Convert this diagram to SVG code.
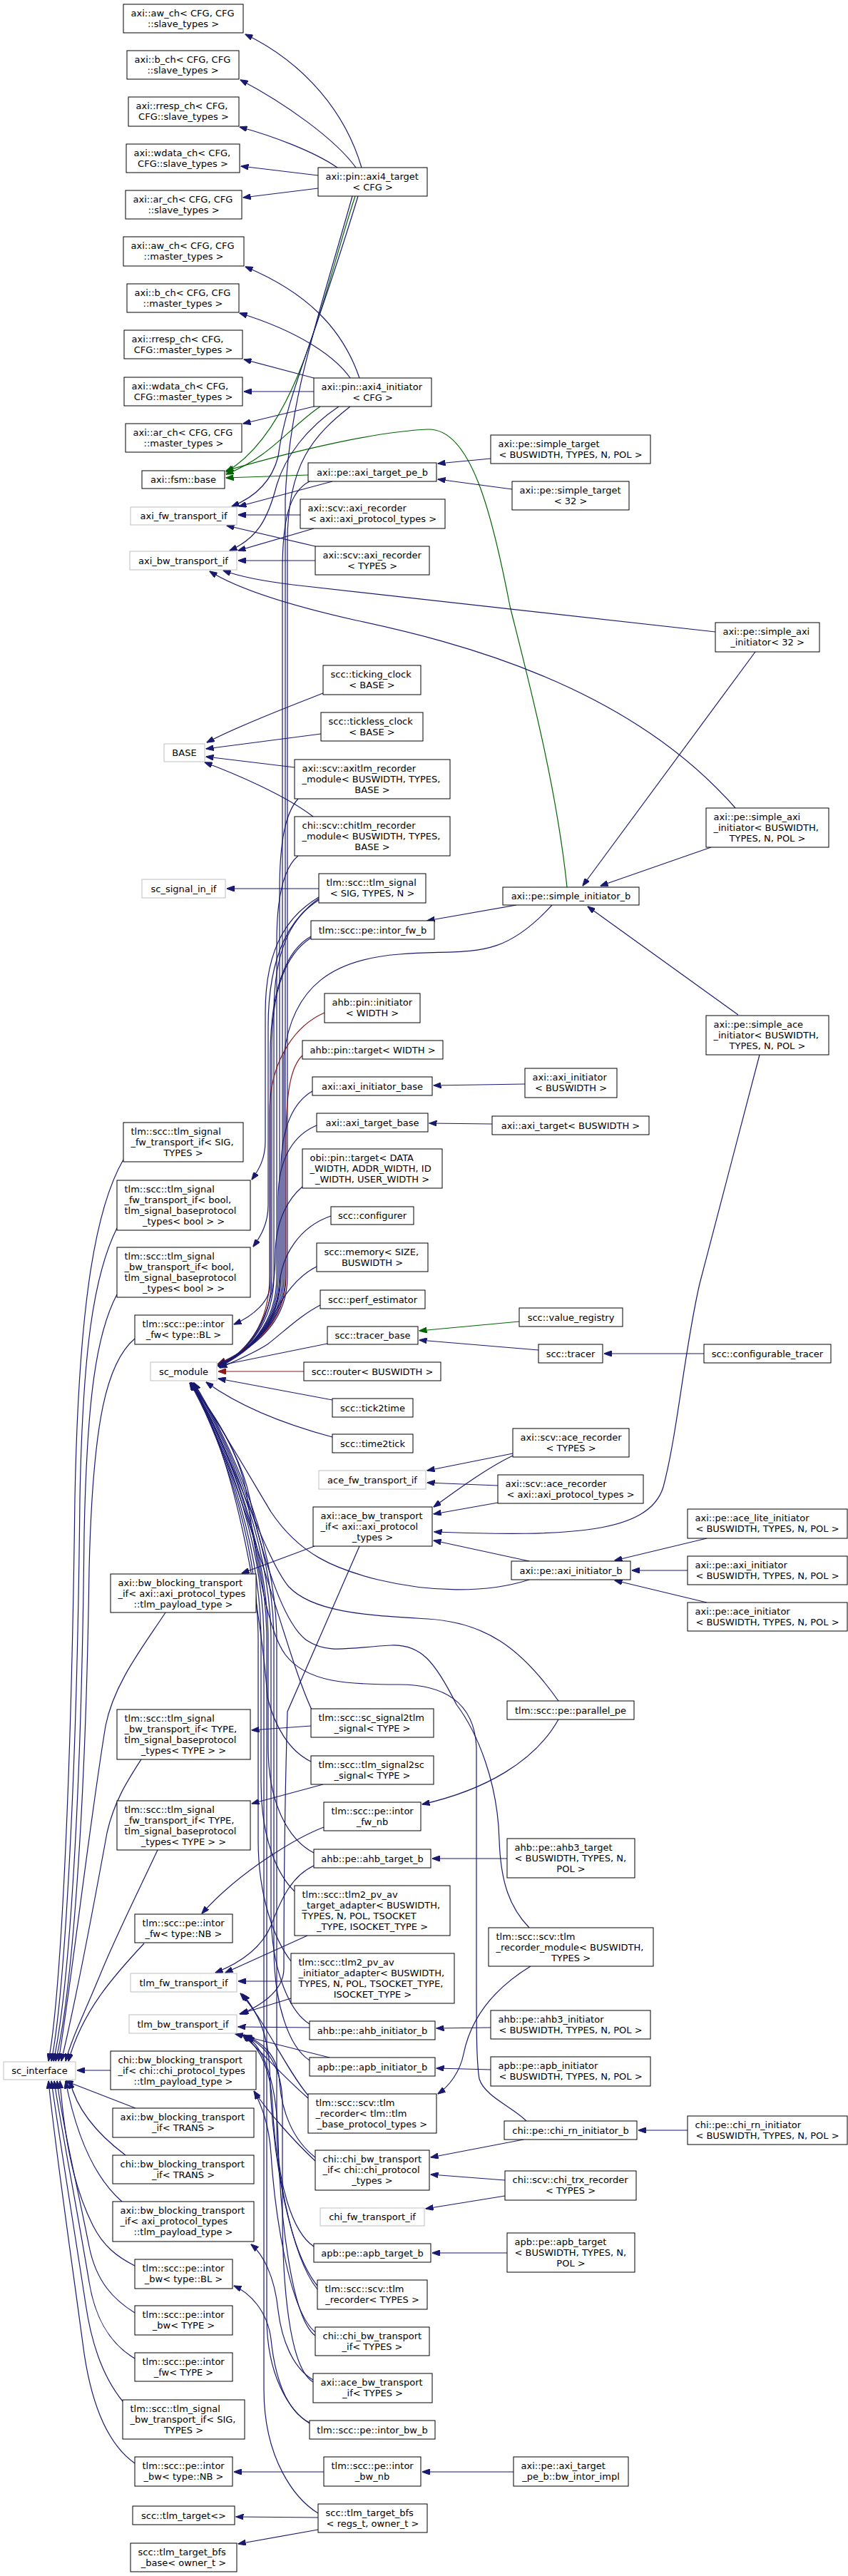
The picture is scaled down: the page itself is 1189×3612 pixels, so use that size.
<svg xmlns="http://www.w3.org/2000/svg" width="1189" height="3612" viewBox="0 0 1189 3612">
<defs>
<style>
text{font-family:"DejaVu Sans","Liberation Sans",sans-serif;font-size:13px;fill:#000}
.c{text-anchor:middle}
.n rect{fill:#fff;stroke:#000;stroke-width:1}
.g rect{fill:#fff;stroke:#bfbfbf;stroke-width:1}
.e{fill:none;stroke:#191970;stroke-width:1.2;marker-end:url(#ab)}
.eg{fill:none;stroke:#006400;stroke-width:1.2;marker-end:url(#ag)}
.er{fill:none;stroke:#8b1a1a;stroke-width:1.2;marker-end:url(#ar)}
</style>
<marker id="ab" viewBox="0 0 11 8" refX="10.5" refY="4" markerWidth="11" markerHeight="8" markerUnits="userSpaceOnUse" orient="auto"><path d="M0,0L11,4L0,8z" fill="#191970" stroke="#191970"/></marker>
<marker id="ag" viewBox="0 0 11 8" refX="10.5" refY="4" markerWidth="11" markerHeight="8" markerUnits="userSpaceOnUse" orient="auto"><path d="M0,0L11,4L0,8z" fill="#006400" stroke="#006400"/></marker>
<marker id="ar" viewBox="0 0 11 8" refX="10.5" refY="4" markerWidth="11" markerHeight="8" markerUnits="userSpaceOnUse" orient="auto"><path d="M0,0L11,4L0,8z" fill="#8b1a1a" stroke="#8b1a1a"/></marker>
</defs>
<rect x="0" y="0" width="1189" height="3612" fill="#fff"/>
<g id="edges">
<path class="e" d="M507,235 C485,160 430,90 344,48"/>
<path class="e" d="M499,235 C470,195 400,145 337,112"/>
<path class="e" d="M473,235 C440,212 380,190 336,178"/>
<path class="e" d="M446,246 L338,233"/>
<path class="e" d="M446,264 L341,277"/>
<path class="e" d="M504,530 C480,460 430,410 344,374"/>
<path class="e" d="M491,530 C470,500 420,465 336,439"/>
<path class="e" d="M440,530 L342,504"/>
<path class="e" d="M440,549 L342,549"/>
<path class="e" d="M440,570 L341,594"/>
<path class="eg" d="M498,275 C450,420 420,600 317,662"/>
<path class="eg" d="M449,570 C405,600 380,640 317,665"/>
<path class="eg" d="M432,666 L317,670"/>
<path class="eg" d="M795,1244 C780,1100 740,950 715,850 C690,720 660,600 600,602 C530,605 420,630 317,660"/>
<path class="e" d="M502,275 C440,480 400,560 390,640 C380,680 350,700 325,710"/>
<path class="e" d="M466,675 L335,710"/>
<path class="e" d="M421,722 L334,722"/>
<path class="e" d="M442,766 L318,737"/>
<path class="e" d="M440,741 L334,772"/>
<path class="e" d="M475,570 C430,600 400,640 388,680 C375,730 360,755 322,772"/>
<path class="e" d="M442,786 L334,786"/>
<path class="e" d="M1003,886 L411,820 C370,815 335,808 313,800"/>
<path class="e" d="M1031,1133 C880,960 640,900 500,870 C420,852 340,830 294,801"/>
<path class="e" d="M688,643 L614,650"/>
<path class="e" d="M718,686 L614,672"/>
<path class="e" d="M1059,914 L817,1242"/>
<path class="e" d="M997,1188 L842,1242"/>
<path class="e" d="M1035,1423 L824,1271"/>
<path class="e" d="M724,1269 L599,1291"/>
<path class="e" d="M453,972 C420,985 340,1015 290,1041"/>
<path class="e" d="M450,1029 L289,1050"/>
<path class="e" d="M413,1076 L289,1061"/>
<path class="e" d="M439,1145 C400,1115 330,1085 287,1069"/>
<path class="e" d="M447,1246 L318,1246"/>
<path class="e" d="M1065,1479 L981,1800 C960,1890 950,2010 930,2085 C910,2150 800,2155 609,2148"/>
<path class="e" d="M991,2157 L862,2188"/>
<path class="e" d="M964,2202 L886,2202"/>
<path class="e" d="M991,2247 L862,2216"/>
<path class="e" d="M742,2189 L608,2160"/>
<path class="e" d="M719,2038 L599,2062"/>
<path class="e" d="M698,2083 L599,2079"/>
<path class="e" d="M719,2041 C680,2060 640,2090 608,2113"/>
<path class="e" d="M698,2107 L608,2123"/>
<path class="e" d="M441,2168 L339,2206"/>
<path class="eg" d="M728,1853 L588,1866"/>
<path class="e" d="M755,1893 L588,1879"/>
<path class="e" d="M987,1898 L847,1898"/>
<path class="e" d="M459,1884 L306,1915"/>
<path class="er" d="M426,1923 L306,1923"/>
<path class="e" d="M466,1963 L306,1933"/>
<path class="e" d="M466,2015 C410,2000 340,1975 289,1938"/>
<path class="e" d="M736,1520 L608,1522"/>
<path class="e" d="M690,1576 L602,1575"/>
<path class="e" d="M711,2606 L606,2606"/>
<path class="e" d="M688,2843 L612,2844"/>
<path class="e" d="M688,2902 L612,2900"/>
<path class="e" d="M964,2987 L895,2987"/>
<path class="e" d="M734,3000 L604,3025"/>
<path class="e" d="M708,3057 L604,3049"/>
<path class="e" d="M708,3079 L597,3097"/>
<path class="e" d="M711,3159 L606,3159"/>
<path class="e" d="M720,3466 L592,3466"/>
<path class="e" d="M454,3466 L328,3466"/>
<path class="e" d="M446,3530 L331,3529"/>
<path class="e" d="M446,3547 L334,3567"/>
<path class="e" d="M744,2757 C690,2790 660,2830 650,2880 C645,2905 630,2925 614,2936"/>
<path class="e" d="M783,2411 C750,2470 680,2510 592,2530"/>
<path class="e" d="M454,2562 C420,2575 340,2620 283,2683"/>
<path class="e" d="M436,2420 L353,2426"/>
<path class="e" d="M453,2502 L353,2529"/>
<path class="e" d="M494,275 C445,450 405,560 400,700 L400,1790 C400,1860 345,1895 306,1912"/>
<path class="e" d="M491,570 C440,610 403,650 403,760 L403,1790 C403,1862 345,1896 306,1913"/>
<path class="e" d="M434,675 C405,690 396,730 396,800 L396,1790 C396,1860 345,1897 306,1914"/>
<path class="e" d="M418,1120 C400,1140 392,1180 392,1250 L392,1790 C392,1858 345,1897 306,1914"/>
<path class="e" d="M418,1200 C400,1215 388,1250 388,1320 L388,1790 C388,1858 345,1898 306,1915"/>
<path class="e" d="M447,1262 C410,1285 384,1330 384,1420 L384,1790 C384,1856 345,1898 306,1915"/>
<path class="e" d="M436,1315 C405,1335 381,1380 381,1470 L381,1790 C381,1856 345,1899 306,1916"/>
<path class="e" d="M774,1269 C700,1350 660,1330 560,1338 C470,1345 410,1380 398,1480 L398,1790 C398,1860 345,1896 306,1913"/>
<path class="er" d="M455,1420 C420,1435 378,1480 378,1560 L378,1790 C378,1856 345,1899 306,1916"/>
<path class="er" d="M424,1480 C408,1495 401,1530 401,1600 L401,1790 C401,1860 345,1896 306,1913"/>
<path class="e" d="M438,1530 C412,1545 394,1580 394,1640 L394,1790 C394,1858 345,1897 306,1914"/>
<path class="e" d="M444,1578 C415,1590 390,1620 390,1680 L390,1790 C390,1858 345,1898 306,1915"/>
<path class="e" d="M424,1664 C405,1680 386,1710 386,1760 C386,1850 345,1898 306,1915"/>
<path class="e" d="M464,1705 C420,1720 395,1760 392,1800 C390,1860 345,1898 306,1916"/>
<path class="e" d="M444,1776 C415,1790 395,1820 380,1850 C365,1880 340,1900 307,1917"/>
<path class="e" d="M449,1830 C420,1845 395,1870 375,1885 C355,1898 335,1906 308,1918"/>
<path class="e" d="M447,1258 C410,1280 372,1320 372,1420 L372,1600 C372,1625 363,1640 353,1654"/>
<path class="e" d="M447,1260 C412,1285 376,1330 376,1440 L376,1690 C376,1715 366,1733 355,1748"/>
<path class="e" d="M436,1313 C405,1330 379,1380 379,1480 L379,1800 C379,1825 355,1845 328,1857"/>
<path class="e" d="M742,2215 C680,2235 600,2232 530,2215 C470,2200 420,2180 380,2120 C350,2070 295,1975 268,1939"/>
<path class="e" d="M783,2385 C730,2310 680,2275 600,2270 C520,2265 440,2262 405,2225 C370,2185 320,2020 268,1939"/>
<path class="e" d="M742,2703 C715,2675 702,2640 700,2580 C698,2500 670,2430 640,2390 C610,2330 590,2305 548,2307 C490,2310 460,2320 430,2300 C395,2275 365,2170 350,2100 C338,2040 295,1975 267,1939"/>
<path class="e" d="M738,2974 C720,2955 680,2940 672,2915 C668,2890 668,2850 668,2760 L668,2450 C665,2385 620,2362 560,2362 C490,2362 430,2360 400,2320 C370,2280 355,2150 345,2090 C333,2030 295,1975 266,1939"/>
<path class="e" d="M437,2397 C400,2320 345,2080 268,1939"/>
<path class="e" d="M436,2470 C405,2455 385,2420 375,2380 C368,2280 335,2050 268,1939"/>
<path class="e" d="M440,2598 C405,2580 376,2530 376,2450 L376,2300 C376,2150 305,2000 269,1939"/>
<path class="e" d="M413,2652 C390,2630 366,2580 366,2500 L366,2300 C366,2150 300,1995 267,1939"/>
<path class="e" d="M408,2750 C385,2720 362,2660 362,2580 L362,2300 C362,2150 300,1995 266,1939"/>
<path class="e" d="M434,2838 C405,2820 380,2760 380,2680 L380,2300 C380,2150 305,1995 270,1939"/>
<path class="e" d="M434,2889 C405,2870 384,2810 384,2730 L384,2300 C384,2150 306,1995 271,1939"/>
<path class="e" d="M440,3150 C410,3130 388,3060 388,2980 L388,2300 C388,2150 307,1995 272,1939"/>
<path class="e" d="M446,3524 C415,3505 370,3450 370,3350 L370,2300 C370,2150 302,1995 268,1939"/>
<path class="e" d="M434,3398 C405,3380 374,3330 374,3250 L374,2300 C374,2150 303,1995 268,1939"/>
<path class="e" d="M431,2714 L316,2766"/>
<path class="e" d="M440,2616 C410,2630 395,2660 380,2700 C365,2735 330,2755 302,2766"/>
<path class="e" d="M408,2778 L334,2778"/>
<path class="e" d="M408,2802 L336,2824"/>
<path class="e" d="M434,2843 L334,2842"/>
<path class="e" d="M462,2885 L330,2852"/>
<path class="e" d="M432,2942 C395,2910 370,2880 340,2853"/>
<path class="e" d="M432,2938 C400,2900 370,2830 337,2795"/>
<path class="e" d="M445,3205 C400,3150 380,3000 378,2900 C376,2850 360,2820 340,2796"/>
<path class="e" d="M445,3210 C405,3160 385,3020 382,2950 C380,2900 362,2870 342,2853"/>
<path class="e" d="M504,2168 L403,2400 C400,2500 398,2650 398,2760 C398,2790 370,2810 338,2824"/>
<path class="e" d="M442,3025 C410,3000 395,2960 392,2920 C390,2880 365,2862 343,2854"/>
<path class="e" d="M442,3030 C410,3000 375,2960 356,2932"/>
<path class="e" d="M442,3270 C405,3240 385,3100 380,3020 C377,2975 365,2950 357,2933"/>
<path class="e" d="M442,3275 C408,3250 392,3100 390,3000 C388,2920 370,2870 345,2855"/>
<path class="e" d="M439,3337 C410,3320 395,3280 390,3240 C385,3190 368,3160 352,3147"/>
<path class="e" d="M439,3340 C405,3320 396,3200 396,3100 L396,2950 C396,2900 375,2870 346,2856"/>
<path class="e" d="M434,3397 C400,3380 385,3330 380,3280 C375,3240 350,3215 328,3205"/>
<path class="e" d="M173,1626 C130,1700 110,1850 105,2100 C100,2500 85,2800 68,2890"/>
<path class="e" d="M164,1722 C130,1790 116,1900 112,2100 C108,2500 90,2800 72,2890"/>
<path class="e" d="M164,1815 C135,1870 122,1960 118,2150 C114,2550 95,2800 75,2890"/>
<path class="e" d="M189,1877 C150,1910 130,1990 125,2200 C120,2550 100,2800 78,2890"/>
<path class="e" d="M232,2261 C200,2310 160,2360 148,2420 C125,2560 100,2780 82,2890"/>
<path class="e" d="M198,2467 C180,2495 160,2525 150,2570 C130,2680 105,2810 86,2890"/>
<path class="e" d="M221,2594 C190,2660 160,2720 140,2770 C115,2830 100,2860 92,2890"/>
<path class="e" d="M202,2725 C160,2770 115,2820 96,2890"/>
<path class="e" d="M176,3022 C140,2995 108,2960 98,2918"/>
<path class="e" d="M171,3087 C140,3060 110,3010 92,2918"/>
<path class="e" d="M189,3177 C165,3165 145,3150 130,3120 C100,3060 90,2990 84,2918"/>
<path class="e" d="M189,3243 C160,3225 135,3200 125,3150 C105,3050 88,2980 80,2918"/>
<path class="e" d="M189,3307 C160,3290 135,3260 125,3200 C105,3080 85,2980 76,2918"/>
<path class="e" d="M172,3367 C150,3340 130,3300 120,3230 C100,3100 82,2990 72,2918"/>
<path class="e" d="M189,3454 C155,3430 130,3380 118,3300 C95,3130 76,3000 68,2918"/>
<path class="e" d="M155,2903 L108,2903"/>
<path class="e" d="M190,2956 L92,2918"/>
</g>
<g id="nodes">
<g id="aw_ch_slave" class="n"><rect x="173" y="6" width="168" height="40"/><text x="183.5" y="22.5">axi::aw_ch&lt; CFG, CFG</text><text class="c" x="257" y="37.5">::slave_types &gt;</text></g>
<g id="b_ch_slave" class="n"><rect x="178" y="71" width="157" height="40"/><text x="188.5" y="87.5">axi::b_ch&lt; CFG, CFG</text><text class="c" x="256.5" y="102.5">::slave_types &gt;</text></g>
<g id="rresp_ch_slave" class="n"><rect x="180" y="136" width="155" height="41"/><text x="190.5" y="152.5">axi::rresp_ch&lt; CFG,</text><text class="c" x="257.5" y="167.5">CFG::slave_types &gt;</text></g>
<g id="wdata_ch_slave" class="n"><rect x="177" y="202" width="159" height="40"/><text x="187.5" y="218.5">axi::wdata_ch&lt; CFG,</text><text class="c" x="256.5" y="233.5">CFG::slave_types &gt;</text></g>
<g id="ar_ch_slave" class="n"><rect x="176" y="267" width="163" height="40"/><text x="186.5" y="283.5">axi::ar_ch&lt; CFG, CFG</text><text class="c" x="257.5" y="298.5">::slave_types &gt;</text></g>
<g id="axi4_target" class="n"><rect x="446" y="235" width="153" height="40"/><text x="456.5" y="251.5">axi::pin::axi4_target</text><text class="c" x="522.5" y="266.5">&lt; CFG &gt;</text></g>
<g id="aw_ch_master" class="n"><rect x="173" y="332" width="169" height="41"/><text x="183.5" y="348.5">axi::aw_ch&lt; CFG, CFG</text><text class="c" x="257.5" y="363.5">::master_types &gt;</text></g>
<g id="b_ch_master" class="n"><rect x="178" y="398" width="157" height="40"/><text x="188.5" y="414.5">axi::b_ch&lt; CFG, CFG</text><text class="c" x="256.5" y="429.5">::master_types &gt;</text></g>
<g id="rresp_ch_master" class="n"><rect x="174" y="463" width="166" height="40"/><text x="184.5" y="479.5">axi::rresp_ch&lt; CFG,</text><text class="c" x="257" y="494.5">CFG::master_types &gt;</text></g>
<g id="wdata_ch_master" class="n"><rect x="174" y="529" width="166" height="40"/><text x="184.5" y="545.5">axi::wdata_ch&lt; CFG,</text><text class="c" x="257" y="560.5">CFG::master_types &gt;</text></g>
<g id="ar_ch_master" class="n"><rect x="176" y="594" width="163" height="40"/><text x="186.5" y="610.5">axi::ar_ch&lt; CFG, CFG</text><text class="c" x="257.5" y="625.5">::master_types &gt;</text></g>
<g id="axi4_initiator" class="n"><rect x="440" y="530" width="165" height="40"/><text x="450.5" y="546.5">axi::pin::axi4_initiator</text><text class="c" x="522.5" y="561.5">&lt; CFG &gt;</text></g>
<g id="fsm_base" class="n"><rect x="199" y="660" width="116" height="25"/><text class="c" x="257" y="677">axi::fsm::base</text></g>
<g id="axi_target_pe_b" class="n"><rect x="432" y="649" width="180" height="26"/><text class="c" x="522" y="666.5">axi::pe::axi_target_pe_b</text></g>
<g id="simple_target_bus" class="n"><rect x="688" y="610" width="224" height="40"/><text x="698.5" y="626.5">axi::pe::simple_target</text><text class="c" x="800" y="641.5">&lt; BUSWIDTH, TYPES, N, POL &gt;</text></g>
<g id="simple_target_32" class="n"><rect x="718" y="675" width="164" height="40"/><text x="728.5" y="691.5">axi::pe::simple_target</text><text class="c" x="800" y="706.5">&lt; 32 &gt;</text></g>
<g id="axi_fw_transport_if" class="g"><rect x="183" y="711" width="149" height="25"/><text class="c" x="257.5" y="728">axi_fw_transport_if</text></g>
<g id="axi_recorder_proto" class="n"><rect x="421" y="700" width="203" height="41"/><text x="431.5" y="716.5">axi::scv::axi_recorder</text><text class="c" x="522.5" y="731.5">&lt; axi::axi_protocol_types &gt;</text></g>
<g id="axi_bw_transport_if" class="g"><rect x="182" y="773" width="150" height="26"/><text class="c" x="257" y="790.5">axi_bw_transport_if</text></g>
<g id="axi_recorder_types" class="n"><rect x="442" y="766" width="160" height="40"/><text x="452.5" y="782.5">axi::scv::axi_recorder</text><text class="c" x="522" y="797.5">&lt; TYPES &gt;</text></g>
<g id="simple_axi_initiator_32" class="n"><rect x="1003" y="873" width="146" height="41"/><text x="1013.5" y="889.5">axi::pe::simple_axi</text><text class="c" x="1076" y="904.5">_initiator&lt; 32 &gt;</text></g>
<g id="ticking_clock" class="n"><rect x="453" y="933" width="137" height="41"/><text x="463.5" y="949.5">scc::ticking_clock</text><text class="c" x="521.5" y="964.5">&lt; BASE &gt;</text></g>
<g id="tickless_clock" class="n"><rect x="450" y="999" width="143" height="40"/><text x="460.5" y="1015.5">scc::tickless_clock</text><text class="c" x="521.5" y="1030.5">&lt; BASE &gt;</text></g>
<g id="base" class="g"><rect x="230" y="1043" width="57" height="25"/><text class="c" x="258.5" y="1060">BASE</text></g>
<g id="axitlm_recorder_module" class="n"><rect x="413" y="1065" width="218" height="55"/><text x="423.5" y="1081.5">axi::scv::axitlm_recorder</text><text x="423.5" y="1096.5">_module&lt; BUSWIDTH, TYPES,</text><text class="c" x="522" y="1111.5">BASE &gt;</text></g>
<g id="chitlm_recorder_module" class="n"><rect x="413" y="1145" width="218" height="55"/><text x="423.5" y="1161.5">chi::scv::chitlm_recorder</text><text x="423.5" y="1176.5">_module&lt; BUSWIDTH, TYPES,</text><text class="c" x="522" y="1191.5">BASE &gt;</text></g>
<g id="simple_axi_initiator_bus" class="n"><rect x="990" y="1133" width="172" height="55"/><text x="1000.5" y="1149.5">axi::pe::simple_axi</text><text x="1000.5" y="1164.5">_initiator&lt; BUSWIDTH,</text><text class="c" x="1076" y="1179.5">TYPES, N, POL &gt;</text></g>
<g id="sc_signal_in_if" class="g"><rect x="199" y="1233" width="117" height="26"/><text class="c" x="257.5" y="1250.5">sc_signal_in_if</text></g>
<g id="tlm_signal" class="n"><rect x="447" y="1225" width="150" height="41"/><text x="457.5" y="1241.5">tlm::scc::tlm_signal</text><text class="c" x="522" y="1256.5">&lt; SIG, TYPES, N &gt;</text></g>
<g id="simple_initiator_b" class="n"><rect x="705" y="1244" width="191" height="25"/><text class="c" x="800.5" y="1261">axi::pe::simple_initiator_b</text></g>
<g id="intor_fw_b" class="n"><rect x="436" y="1291" width="173" height="26"/><text class="c" x="522.5" y="1308.5">tlm::scc::pe::intor_fw_b</text></g>
<g id="ahb_pin_initiator" class="n"><rect x="455" y="1393" width="134" height="41"/><text x="465.5" y="1409.5">ahb::pin::initiator</text><text class="c" x="522" y="1424.5">&lt; WIDTH &gt;</text></g>
<g id="ahb_pin_target" class="n"><rect x="424" y="1459" width="197" height="26"/><text class="c" x="522.5" y="1476.5">ahb::pin::target&lt; WIDTH &gt;</text></g>
<g id="simple_ace_initiator" class="n"><rect x="990" y="1424" width="172" height="55"/><text x="1000.5" y="1440.5">axi::pe::simple_ace</text><text x="1000.5" y="1455.5">_initiator&lt; BUSWIDTH,</text><text class="c" x="1076" y="1470.5">TYPES, N, POL &gt;</text></g>
<g id="axi_initiator_base" class="n"><rect x="438" y="1510" width="168" height="26"/><text class="c" x="522" y="1527.5">axi::axi_initiator_base</text></g>
<g id="axi_initiator_bus" class="n"><rect x="736" y="1498" width="129" height="41"/><text x="746.5" y="1514.5">axi::axi_initiator</text><text class="c" x="800.5" y="1529.5">&lt; BUSWIDTH &gt;</text></g>
<g id="axi_target_base" class="n"><rect x="444" y="1561" width="156" height="26"/><text class="c" x="522" y="1578.5">axi::axi_target_base</text></g>
<g id="axi_target_bus" class="n"><rect x="690" y="1565" width="220" height="26"/><text class="c" x="800" y="1582.5">axi::axi_target&lt; BUSWIDTH &gt;</text></g>
<g id="tlm_signal_fw_sig" class="n"><rect x="173" y="1574" width="168" height="55"/><text x="183.5" y="1590.5">tlm::scc::tlm_signal</text><text x="183.5" y="1605.5">_fw_transport_if&lt; SIG,</text><text class="c" x="257" y="1620.5">TYPES &gt;</text></g>
<g id="obi_pin_target" class="n"><rect x="424" y="1611" width="196" height="55"/><text x="434.5" y="1627.5">obi::pin::target&lt; DATA</text><text x="434.5" y="1642.5">_WIDTH, ADDR_WIDTH, ID</text><text class="c" x="522" y="1657.5">_WIDTH, USER_WIDTH &gt;</text></g>
<g id="tlm_signal_fw_bool" class="n"><rect x="164" y="1655" width="187" height="70"/><text x="174.5" y="1671.5">tlm::scc::tlm_signal</text><text x="174.5" y="1686.5">_fw_transport_if&lt; bool,</text><text x="174.5" y="1701.5">tlm_signal_baseprotocol</text><text class="c" x="257.5" y="1716.5">_types&lt; bool &gt; &gt;</text></g>
<g id="configurer" class="n"><rect x="464" y="1692" width="116" height="25"/><text class="c" x="522" y="1709">scc::configurer</text></g>
<g id="tlm_signal_bw_bool" class="n"><rect x="164" y="1749" width="187" height="70"/><text x="174.5" y="1765.5">tlm::scc::tlm_signal</text><text x="174.5" y="1780.5">_bw_transport_if&lt; bool,</text><text x="174.5" y="1795.5">tlm_signal_baseprotocol</text><text class="c" x="257.5" y="1810.5">_types&lt; bool &gt; &gt;</text></g>
<g id="memory" class="n"><rect x="444" y="1743" width="156" height="40"/><text x="454.5" y="1759.5">scc::memory&lt; SIZE,</text><text class="c" x="522" y="1774.5">BUSWIDTH &gt;</text></g>
<g id="perf_estimator" class="n"><rect x="449" y="1809" width="147" height="26"/><text class="c" x="522.5" y="1826.5">scc::perf_estimator</text></g>
<g id="value_registry" class="n"><rect x="728" y="1834" width="145" height="26"/><text class="c" x="800.5" y="1851.5">scc::value_registry</text></g>
<g id="intor_fw_bl" class="n"><rect x="189" y="1844" width="137" height="41"/><text x="199.5" y="1860.5">tlm::scc::pe::intor</text><text class="c" x="257.5" y="1875.5">_fw&lt; type::BL &gt;</text></g>
<g id="tracer_base" class="n"><rect x="459" y="1860" width="127" height="25"/><text class="c" x="522.5" y="1877">scc::tracer_base</text></g>
<g id="tracer" class="n"><rect x="755" y="1885" width="90" height="26"/><text class="c" x="800" y="1902.5">scc::tracer</text></g>
<g id="configurable_tracer" class="n"><rect x="987" y="1885" width="178" height="26"/><text class="c" x="1076" y="1902.5">scc::configurable_tracer</text></g>
<g id="sc_module" class="g"><rect x="211" y="1910" width="93" height="26"/><text class="c" x="257.5" y="1927.5">sc_module</text></g>
<g id="router" class="n"><rect x="426" y="1910" width="192" height="26"/><text class="c" x="522" y="1927.5">scc::router&lt; BUSWIDTH &gt;</text></g>
<g id="tick2time" class="n"><rect x="466" y="1961" width="113" height="26"/><text class="c" x="522.5" y="1978.5">scc::tick2time</text></g>
<g id="time2tick" class="n"><rect x="466" y="2011" width="113" height="26"/><text class="c" x="522.5" y="2028.5">scc::time2tick</text></g>
<g id="ace_recorder_types" class="n"><rect x="719" y="2003" width="163" height="40"/><text x="729.5" y="2019.5">axi::scv::ace_recorder</text><text class="c" x="800.5" y="2034.5">&lt; TYPES &gt;</text></g>
<g id="ace_fw_transport_if" class="g"><rect x="447" y="2062" width="150" height="26"/><text class="c" x="522" y="2079.5">ace_fw_transport_if</text></g>
<g id="ace_recorder_proto" class="n"><rect x="698" y="2068" width="204" height="40"/><text x="708.5" y="2084.5">axi::scv::ace_recorder</text><text class="c" x="800" y="2099.5">&lt; axi::axi_protocol_types &gt;</text></g>
<g id="ace_bw_transport_proto" class="n"><rect x="439" y="2113" width="167" height="55"/><text x="449.5" y="2129.5">axi::ace_bw_transport</text><text x="449.5" y="2144.5">_if&lt; axi::axi_protocol</text><text class="c" x="522.5" y="2159.5">_types &gt;</text></g>
<g id="ace_lite_initiator" class="n"><rect x="964" y="2116" width="224" height="41"/><text x="974.5" y="2132.5">axi::pe::ace_lite_initiator</text><text class="c" x="1076" y="2147.5">&lt; BUSWIDTH, TYPES, N, POL &gt;</text></g>
<g id="axi_initiator_b" class="n"><rect x="717" y="2189" width="167" height="26"/><text class="c" x="800.5" y="2206.5">axi::pe::axi_initiator_b</text></g>
<g id="axi_initiator_pe" class="n"><rect x="964" y="2182" width="224" height="40"/><text x="974.5" y="2198.5">axi::pe::axi_initiator</text><text class="c" x="1076" y="2213.5">&lt; BUSWIDTH, TYPES, N, POL &gt;</text></g>
<g id="axi_bw_blocking_proto" class="n"><rect x="155" y="2207" width="204" height="54"/><text x="165.5" y="2223.5">axi::bw_blocking_transport</text><text x="165.5" y="2238.5">_if&lt; axi::axi_protocol_types</text><text class="c" x="257" y="2253.5">::tlm_payload_type &gt;</text></g>
<g id="ace_initiator" class="n"><rect x="964" y="2247" width="224" height="40"/><text x="974.5" y="2263.5">axi::pe::ace_initiator</text><text class="c" x="1076" y="2278.5">&lt; BUSWIDTH, TYPES, N, POL &gt;</text></g>
<g id="parallel_pe" class="n"><rect x="711" y="2385" width="178" height="26"/><text class="c" x="800" y="2402.5">tlm::scc::pe::parallel_pe</text></g>
<g id="tlm_signal_bw_type" class="n"><rect x="164" y="2397" width="187" height="70"/><text x="174.5" y="2413.5">tlm::scc::tlm_signal</text><text x="174.5" y="2428.5">_bw_transport_if&lt; TYPE,</text><text x="174.5" y="2443.5">tlm_signal_baseprotocol</text><text class="c" x="257.5" y="2458.5">_types&lt; TYPE &gt; &gt;</text></g>
<g id="sc_signal2tlm" class="n"><rect x="436" y="2396" width="172" height="40"/><text x="446.5" y="2412.5">tlm::scc::sc_signal2tlm</text><text class="c" x="522" y="2427.5">_signal&lt; TYPE &gt;</text></g>
<g id="tlm_signal2sc" class="n"><rect x="436" y="2462" width="172" height="40"/><text x="446.5" y="2478.5">tlm::scc::tlm_signal2sc</text><text class="c" x="522" y="2493.5">_signal&lt; TYPE &gt;</text></g>
<g id="tlm_signal_fw_type" class="n"><rect x="164" y="2525" width="187" height="69"/><text x="174.5" y="2541.5">tlm::scc::tlm_signal</text><text x="174.5" y="2556.5">_fw_transport_if&lt; TYPE,</text><text x="174.5" y="2571.5">tlm_signal_baseprotocol</text><text class="c" x="257.5" y="2586.5">_types&lt; TYPE &gt; &gt;</text></g>
<g id="intor_fw_nb" class="n"><rect x="454" y="2527" width="136" height="40"/><text x="464.5" y="2543.5">tlm::scc::pe::intor</text><text class="c" x="522" y="2558.5">_fw_nb</text></g>
<g id="ahb_target_b" class="n"><rect x="440" y="2593" width="164" height="26"/><text class="c" x="522" y="2610.5">ahb::pe::ahb_target_b</text></g>
<g id="ahb3_target" class="n"><rect x="711" y="2578" width="179" height="55"/><text x="721.5" y="2594.5">ahb::pe::ahb3_target</text><text x="721.5" y="2609.5">&lt; BUSWIDTH, TYPES, N,</text><text class="c" x="800.5" y="2624.5">POL &gt;</text></g>
<g id="target_adapter" class="n"><rect x="413" y="2644" width="218" height="70"/><text x="423.5" y="2660.5">tlm::scc::tlm2_pv_av</text><text x="423.5" y="2675.5">_target_adapter&lt; BUSWIDTH,</text><text x="423.5" y="2690.5">TYPES, N, POL, TSOCKET</text><text class="c" x="522" y="2705.5">_TYPE, ISOCKET_TYPE &gt;</text></g>
<g id="intor_fw_nbt" class="n"><rect x="189" y="2684" width="137" height="40"/><text x="199.5" y="2700.5">tlm::scc::pe::intor</text><text class="c" x="257.5" y="2715.5">_fw&lt; type::NB &gt;</text></g>
<g id="tlm_recorder_module" class="n"><rect x="685" y="2703" width="231" height="54"/><text x="695.5" y="2719.5">tlm::scc::scv::tlm</text><text x="695.5" y="2734.5">_recorder_module&lt; BUSWIDTH,</text><text class="c" x="800.5" y="2749.5">TYPES &gt;</text></g>
<g id="initiator_adapter" class="n"><rect x="408" y="2739" width="229" height="70"/><text x="418.5" y="2755.5">tlm::scc::tlm2_pv_av</text><text x="418.5" y="2770.5">_initiator_adapter&lt; BUSWIDTH,</text><text x="418.5" y="2785.5">TYPES, N, POL, TSOCKET_TYPE,</text><text class="c" x="522.5" y="2800.5">ISOCKET_TYPE &gt;</text></g>
<g id="tlm_fw_transport_if" class="g"><rect x="183" y="2767" width="149" height="26"/><text class="c" x="257.5" y="2784.5">tlm_fw_transport_if</text></g>
<g id="tlm_bw_transport_if" class="g"><rect x="181" y="2825" width="151" height="26"/><text class="c" x="256.5" y="2842.5">tlm_bw_transport_if</text></g>
<g id="ahb3_initiator" class="n"><rect x="688" y="2819" width="224" height="40"/><text x="698.5" y="2835.5">ahb::pe::ahb3_initiator</text><text class="c" x="800" y="2850.5">&lt; BUSWIDTH, TYPES, N, POL &gt;</text></g>
<g id="ahb_initiator_b" class="n"><rect x="434" y="2834" width="176" height="26"/><text class="c" x="522" y="2851.5">ahb::pe::ahb_initiator_b</text></g>
<g id="sc_interface" class="g"><rect x="5" y="2891" width="101" height="25"/><text class="c" x="55.5" y="2908">sc_interface</text></g>
<g id="chi_bw_blocking_proto" class="n"><rect x="155" y="2876" width="204" height="54"/><text x="165.5" y="2892.5">chi::bw_blocking_transport</text><text x="165.5" y="2907.5">_if&lt; chi::chi_protocol_types</text><text class="c" x="257" y="2922.5">::tlm_payload_type &gt;</text></g>
<g id="apb_initiator_b" class="n"><rect x="434" y="2885" width="176" height="26"/><text class="c" x="522" y="2902.5">apb::pe::apb_initiator_b</text></g>
<g id="apb_initiator" class="n"><rect x="688" y="2884" width="224" height="41"/><text x="698.5" y="2900.5">apb::pe::apb_initiator</text><text class="c" x="800" y="2915.5">&lt; BUSWIDTH, TYPES, N, POL &gt;</text></g>
<g id="tlm_recorder_tlm" class="n"><rect x="432" y="2936" width="180" height="55"/><text x="442.5" y="2952.5">tlm::scc::scv::tlm</text><text x="442.5" y="2967.5">_recorder&lt; tlm::tlm</text><text class="c" x="522" y="2982.5">_base_protocol_types &gt;</text></g>
<g id="axi_bw_blocking_trans" class="n"><rect x="158" y="2956" width="198" height="41"/><text x="168.5" y="2972.5">axi::bw_blocking_transport</text><text class="c" x="257" y="2987.5">_if&lt; TRANS &gt;</text></g>
<g id="chi_rn_initiator_b" class="n"><rect x="707" y="2974" width="186" height="26"/><text class="c" x="800" y="2991.5">chi::pe::chi_rn_initiator_b</text></g>
<g id="chi_rn_initiator" class="n"><rect x="964" y="2967" width="224" height="40"/><text x="974.5" y="2983.5">chi::pe::chi_rn_initiator</text><text class="c" x="1076" y="2998.5">&lt; BUSWIDTH, TYPES, N, POL &gt;</text></g>
<g id="chi_bw_blocking_trans" class="n"><rect x="158" y="3022" width="198" height="40"/><text x="168.5" y="3038.5">chi::bw_blocking_transport</text><text class="c" x="257" y="3053.5">_if&lt; TRANS &gt;</text></g>
<g id="chi_bw_transport_proto" class="n"><rect x="442" y="3015" width="160" height="56"/><text x="452.5" y="3031.5">chi::chi_bw_transport</text><text x="452.5" y="3046.5">_if&lt; chi::chi_protocol</text><text class="c" x="522" y="3061.5">_types &gt;</text></g>
<g id="chi_trx_recorder" class="n"><rect x="708" y="3044" width="184" height="41"/><text x="718.5" y="3060.5">chi::scv::chi_trx_recorder</text><text class="c" x="800" y="3075.5">&lt; TYPES &gt;</text></g>
<g id="axi_bw_blocking_axiproto" class="n"><rect x="158" y="3087" width="198" height="56"/><text x="168.5" y="3103.5">axi::bw_blocking_transport</text><text x="168.5" y="3118.5">_if&lt; axi_protocol_types</text><text class="c" x="257" y="3133.5">::tlm_payload_type &gt;</text></g>
<g id="chi_fw_transport_if" class="g"><rect x="449" y="3096" width="146" height="25"/><text class="c" x="522" y="3113">chi_fw_transport_if</text></g>
<g id="apb_target_b" class="n"><rect x="440" y="3146" width="164" height="26"/><text class="c" x="522" y="3163.5">apb::pe::apb_target_b</text></g>
<g id="apb_target" class="n"><rect x="711" y="3131" width="179" height="55"/><text x="721.5" y="3147.5">apb::pe::apb_target</text><text x="721.5" y="3162.5">&lt; BUSWIDTH, TYPES, N,</text><text class="c" x="800.5" y="3177.5">POL &gt;</text></g>
<g id="intor_bw_bl" class="n"><rect x="189" y="3168" width="137" height="41"/><text x="199.5" y="3184.5">tlm::scc::pe::intor</text><text class="c" x="257.5" y="3199.5">_bw&lt; type::BL &gt;</text></g>
<g id="tlm_recorder_types" class="n"><rect x="445" y="3197" width="154" height="41"/><text x="455.5" y="3213.5">tlm::scc::scv::tlm</text><text class="c" x="522" y="3228.5">_recorder&lt; TYPES &gt;</text></g>
<g id="intor_bw_type" class="n"><rect x="189" y="3233" width="137" height="41"/><text x="199.5" y="3249.5">tlm::scc::pe::intor</text><text class="c" x="257.5" y="3264.5">_bw&lt; TYPE &gt;</text></g>
<g id="chi_bw_transport_types" class="n"><rect x="442" y="3263" width="160" height="40"/><text x="452.5" y="3279.5">chi::chi_bw_transport</text><text class="c" x="522" y="3294.5">_if&lt; TYPES &gt;</text></g>
<g id="intor_fw_type" class="n"><rect x="189" y="3299" width="137" height="40"/><text x="199.5" y="3315.5">tlm::scc::pe::intor</text><text class="c" x="257.5" y="3330.5">_fw&lt; TYPE &gt;</text></g>
<g id="ace_bw_transport_types" class="n"><rect x="439" y="3328" width="167" height="41"/><text x="449.5" y="3344.5">axi::ace_bw_transport</text><text class="c" x="522.5" y="3359.5">_if&lt; TYPES &gt;</text></g>
<g id="tlm_signal_bw_sig" class="n"><rect x="172" y="3365" width="171" height="55"/><text x="182.5" y="3381.5">tlm::scc::tlm_signal</text><text x="182.5" y="3396.5">_bw_transport_if&lt; SIG,</text><text class="c" x="257.5" y="3411.5">TYPES &gt;</text></g>
<g id="intor_bw_b" class="n"><rect x="434" y="3394" width="176" height="26"/><text class="c" x="522" y="3411.5">tlm::scc::pe::intor_bw_b</text></g>
<g id="intor_bw_nbt" class="n"><rect x="189" y="3445" width="137" height="41"/><text x="199.5" y="3461.5">tlm::scc::pe::intor</text><text class="c" x="257.5" y="3476.5">_bw&lt; type::NB &gt;</text></g>
<g id="intor_bw_nb" class="n"><rect x="454" y="3445" width="136" height="41"/><text x="464.5" y="3461.5">tlm::scc::pe::intor</text><text class="c" x="522" y="3476.5">_bw_nb</text></g>
<g id="bw_intor_impl" class="n"><rect x="720" y="3445" width="161" height="41"/><text x="730.5" y="3461.5">axi::pe::axi_target</text><text class="c" x="800.5" y="3476.5">_pe_b::bw_intor_impl</text></g>
<g id="tlm_target" class="n"><rect x="186" y="3514" width="143" height="26"/><text class="c" x="257.5" y="3531.5">scc::tlm_target&lt;&gt;</text></g>
<g id="tlm_target_bfs" class="n"><rect x="446" y="3511" width="153" height="40"/><text x="456.5" y="3527.5">scc::tlm_target_bfs</text><text class="c" x="522.5" y="3542.5">&lt; regs_t, owner_t &gt;</text></g>
<g id="tlm_target_bfs_base" class="n"><rect x="183" y="3566" width="149" height="40"/><text x="193.5" y="3582.5">scc::tlm_target_bfs</text><text class="c" x="257.5" y="3597.5">_base&lt; owner_t &gt;</text></g>
</g>
</svg>
